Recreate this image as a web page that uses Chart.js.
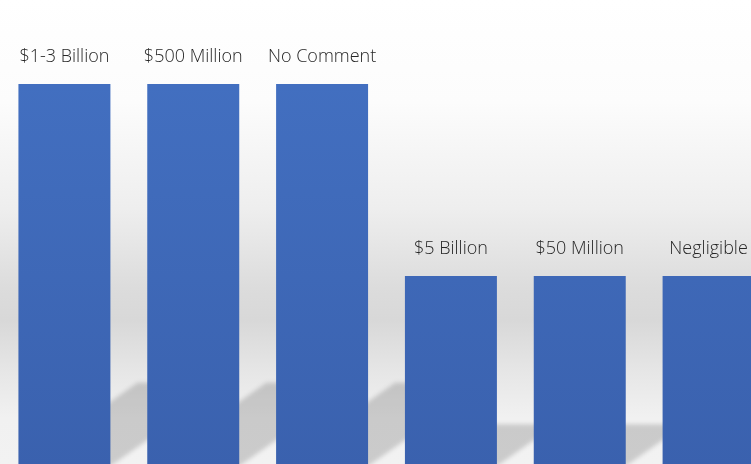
<!DOCTYPE html>
<html>
<head>
<meta charset="utf-8">
<script src="https://cdn.jsdelivr.net/npm/chart.js@4/dist/chart.umd.min.js"></script>
<style>
  html, body {
    margin: 0;
    padding: 0;
    width: 751px;
    height: 464px;
    overflow: hidden;
    background: linear-gradient(to bottom, #ffffff 0%, #fcfcfc 22%, #eeeeee 45%, #dcdcdc 62%, #d8d8d8 69%, #e6e6e6 80%, #f1f1f1 90%, #f2f2f2 100%);
  }
  #wrap {
    position: absolute;
    left: 0;
    top: 0;
    width: 773px;
    height: 468px;
  }
</style>
</head>
<body>
<div id="wrap"><canvas id="chart" width="773" height="468"></canvas></div>
<script>
// Survey answers and how often each was given
const categories = ['$1-3 Billion', '$500 Million', 'No Comment', '$5 Billion', '$50 Million', 'Negligible'];
const counts = [2, 2, 2, 1, 1, 1];
const yMax = 2.4375;

// Floor shadows cast behind each bar
const shadowPlugin = {
  id: 'barShadows',
  beforeDatasetsDraw(chart) {
    const ctx = chart.ctx;
    const bars = chart.getDatasetMeta(0).data;
    ctx.save();
    ctx.filter = 'blur(2px)';
    ctx.fillStyle = 'rgba(0, 0, 0, 0.16)';
    bars.forEach(bar => {
      const left = bar.x - bar.width / 2;
      const right = bar.x + bar.width / 2;
      const bottom = 466;
      const s = (bar.base - bar.y) * 0.31;
      ctx.beginPath();
      ctx.moveTo(left, bottom);
      ctx.lineTo(right, bottom);
      ctx.lineTo(right + s, bottom - 0.7 * s);
      ctx.lineTo(left + s, bottom - 0.7 * s);
      ctx.closePath();
      ctx.fill();
    });
    ctx.restore();
  }
};

// Category names written above each bar
const topLabels = {
  id: 'topLabels',
  afterDatasetsDraw(chart) {
    const ctx = chart.ctx;
    const bars = chart.getDatasetMeta(0).data;
    ctx.save();
    ctx.font = '300 18px "Open Sans", sans-serif';
    ctx.fillStyle = '#262626';
    ctx.textAlign = 'center';
    ctx.textBaseline = 'middle';
    bars.forEach((bar, i) => {
      ctx.fillText(categories[i], bar.x, bar.y - 27);
    });
    ctx.restore();
  }
};

function barFill(context) {
  const area = context.chart.chartArea;
  if (!area) return '#4472c4';
  const g = context.chart.ctx.createLinearGradient(0, area.top, 0, area.bottom);
  g.addColorStop(0, '#4472c4');
  g.addColorStop(1, '#3a61ae');
  return g;
}

new Chart(document.getElementById('chart'), {
  type: 'bar',
  data: {
    labels: categories,
    datasets: [{
      data: counts,
      backgroundColor: barFill,
      borderWidth: 0,
      categoryPercentage: 1,
      barPercentage: 0.714
    }]
  },
  options: {
    responsive: false,
    devicePixelRatio: 1,
    animation: false,
    layout: { padding: 0 },
    plugins: {
      legend: { display: false },
      tooltip: { enabled: false }
    },
    scales: {
      x: { display: false },
      y: { display: false, min: 0, max: yMax }
    }
  },
  plugins: [shadowPlugin, topLabels]
});
</script>
</body>
</html>
